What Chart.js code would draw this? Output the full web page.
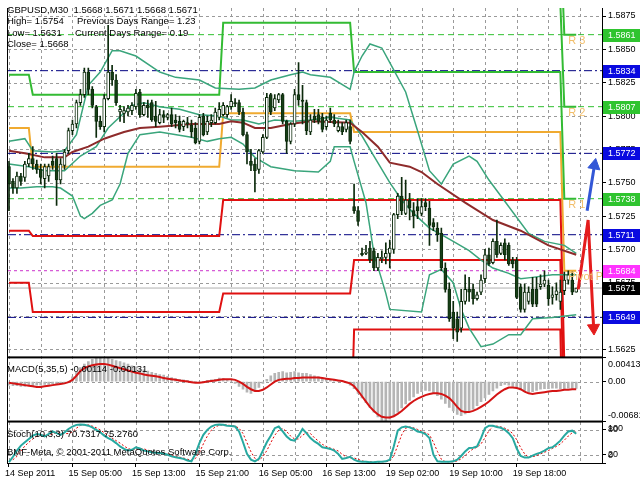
<!DOCTYPE html>
<html>
<head>
<meta charset="utf-8">
<script src="https://cdn.jsdelivr.net/npm/chart.js@4.4.1/dist/chart.umd.min.js"></script>
<style>
  html, body { margin: 0; padding: 0; background: #fff; }
  canvas { display: block; }
</style>
</head>
<body>
<canvas id="gbpusd" width="640" height="480"></canvas>
<script>
// x axis: one label every 16 bars (M30), grid every 8 bars
const timeLabels = ['14 Sep 2011', '15 Sep 05:00', '15 Sep 13:00', '15 Sep 21:00', '16 Sep 05:00',
  '16 Sep 13:00', '19 Sep 02:00', '19 Sep 10:00', '19 Sep 18:00'];
const gridBars = [0, 8, 16, 24, 32, 40, 48, 56, 64, 72, 80, 88, 96, 104, 112, 120, 128, 136, 144];
const priceTicks = [1.5625, 1.5650, 1.5675, 1.5700, 1.5725, 1.5750, 1.5775, 1.5800, 1.5825, 1.5850, 1.5875];

// GBPUSD M30 candles
const opens = [
  1.5762, 1.5751, 1.5746, 1.5755, 1.5754, 1.5764, 1.5768, 1.5764, 1.5760, 1.5753,
  1.5755, 1.5766, 1.5768, 1.5752, 1.5763, 1.5774, 1.5789, 1.5794, 1.5810, 1.5816,
  1.5833, 1.5820, 1.5807, 1.5796, 1.5792, 1.5813, 1.5833, 1.5827, 1.5803, 1.5802,
  1.5803, 1.5804, 1.5807, 1.5818, 1.5801, 1.5808, 1.5810, 1.5800, 1.5795, 1.5801,
  1.5799, 1.5801, 1.5797, 1.5796, 1.5792, 1.5795, 1.5793, 1.5791, 1.5781, 1.5800,
  1.5788, 1.5795, 1.5795, 1.5799, 1.5801, 1.5801, 1.5807, 1.5810, 1.5810, 1.5803,
  1.5786, 1.5766, 1.5764, 1.5760, 1.5773, 1.5784, 1.5816, 1.5806, 1.5812, 1.5816,
  1.5796, 1.5781, 1.5794, 1.5816, 1.5812, 1.5810, 1.5788, 1.5800, 1.5801, 1.5799,
  1.5792, 1.5802, 1.5797, 1.5789, 1.5792, 1.5790, 1.5792, 1.5732, 1.5729, 1.5697,
  1.5697, 1.5701, 1.5699, 1.5686, 1.5693, 1.5694, 1.5697, 1.5700, 1.5726, 1.5740,
  1.5727, 1.5737, 1.5729, 1.5732, 1.5727, 1.5735, 1.5731, 1.5720, 1.5716, 1.5712,
  1.5686, 1.5670, 1.5653, 1.5648, 1.5641, 1.5661, 1.5670, 1.5670, 1.5663, 1.5668,
  1.5678, 1.5696, 1.5690, 1.5706, 1.5697, 1.5705, 1.5703, 1.5692, 1.5692, 1.5672,
  1.5655, 1.5661, 1.5670, 1.5670, 1.5672, 1.5674, 1.5673, 1.5664, 1.5666, 1.5661,
  1.5669, 1.5677, 1.5677, 1.5668
];
const highs = [
  1.5766, 1.5753, 1.5758, 1.5757, 1.5766, 1.5772, 1.5777, 1.5767, 1.5764, 1.5764,
  1.5764, 1.5770, 1.5772, 1.5768, 1.5775, 1.5791, 1.5797, 1.5812, 1.5820, 1.5836,
  1.5836, 1.5822, 1.5808, 1.5800, 1.5816, 1.5868, 1.5838, 1.5831, 1.5808, 1.5807,
  1.5808, 1.5810, 1.5820, 1.5820, 1.5810, 1.5812, 1.5812, 1.5811, 1.5805, 1.5804,
  1.5802, 1.5806, 1.5801, 1.5800, 1.5797, 1.5799, 1.5797, 1.5795, 1.5801, 1.5802,
  1.5800, 1.5801, 1.5806, 1.5810, 1.5810, 1.5808, 1.5816, 1.5813, 1.5812, 1.5806,
  1.5788, 1.5775, 1.5768, 1.5775, 1.5786, 1.5817, 1.5817, 1.5816, 1.5817, 1.5817,
  1.5797, 1.5795, 1.5820, 1.5840, 1.5823, 1.5812, 1.5801, 1.5805, 1.5805, 1.5802,
  1.5800, 1.5806, 1.5801, 1.5797, 1.5795, 1.5797, 1.5797, 1.5749, 1.5732, 1.5701,
  1.5703, 1.5706, 1.5701, 1.5697, 1.5699, 1.5705, 1.5707, 1.5727, 1.5742, 1.5754,
  1.5752, 1.5742, 1.5735, 1.5738, 1.5738, 1.5738, 1.5736, 1.5723, 1.5720, 1.5716,
  1.5690, 1.5675, 1.5661, 1.5653, 1.5670, 1.5681, 1.5679, 1.5674, 1.5668, 1.5681,
  1.5700, 1.5701, 1.5708, 1.5722, 1.5705, 1.5708, 1.5705, 1.5694, 1.5694, 1.5674,
  1.5674, 1.5672, 1.5679, 1.5679, 1.5681, 1.5684, 1.5677, 1.5672, 1.5675, 1.5677,
  1.5683, 1.5684, 1.5683, 1.5671
];
const lows = [
  1.5729, 1.5742, 1.5742, 1.5748, 1.5751, 1.5762, 1.5760, 1.5757, 1.5749, 1.5746,
  1.5751, 1.5760, 1.5733, 1.5749, 1.5760, 1.5772, 1.5786, 1.5791, 1.5808, 1.5814,
  1.5816, 1.5806, 1.5784, 1.5790, 1.5788, 1.5812, 1.5823, 1.5808, 1.5796, 1.5795,
  1.5800, 1.5801, 1.5805, 1.5799, 1.5800, 1.5799, 1.5796, 1.5792, 1.5794, 1.5795,
  1.5797, 1.5792, 1.5791, 1.5788, 1.5789, 1.5791, 1.5784, 1.5779, 1.5779, 1.5785,
  1.5786, 1.5792, 1.5794, 1.5797, 1.5800, 1.5799, 1.5805, 1.5807, 1.5801, 1.5785,
  1.5764, 1.5759, 1.5743, 1.5757, 1.5772, 1.5783, 1.5801, 1.5804, 1.5810, 1.5794,
  1.5772, 1.5779, 1.5792, 1.5808, 1.5794, 1.5786, 1.5786, 1.5795, 1.5794, 1.5788,
  1.5790, 1.5795, 1.5792, 1.5788, 1.5786, 1.5788, 1.5779, 1.5727, 1.5718, 1.5695,
  1.5696, 1.5690, 1.5684, 1.5684, 1.5690, 1.5689, 1.5686, 1.5697, 1.5723, 1.5726,
  1.5726, 1.5722, 1.5716, 1.5723, 1.5725, 1.5729, 1.5703, 1.5714, 1.5706, 1.5684,
  1.5668, 1.5646, 1.5633, 1.5631, 1.5638, 1.5659, 1.5661, 1.5659, 1.5662, 1.5666,
  1.5675, 1.5688, 1.5689, 1.5694, 1.5696, 1.5692, 1.5688, 1.5686, 1.5663, 1.5653,
  1.5653, 1.5659, 1.5657, 1.5657, 1.5670, 1.5672, 1.5658, 1.5659, 1.5662, 1.5655,
  1.5666, 1.5674, 1.5666, 1.5668
];
const closes = [
  1.5749, 1.5746, 1.5755, 1.5751, 1.5764, 1.5768, 1.5764, 1.5760, 1.5754, 1.5762,
  1.5762, 1.5763, 1.5752, 1.5764, 1.5773, 1.5789, 1.5794, 1.5810, 1.5816, 1.5833,
  1.5820, 1.5808, 1.5796, 1.5792, 1.5813, 1.5833, 1.5827, 1.5810, 1.5805, 1.5804,
  1.5806, 1.5808, 1.5817, 1.5801, 1.5808, 1.5806, 1.5797, 1.5796, 1.5801, 1.5799,
  1.5801, 1.5794, 1.5795, 1.5790, 1.5796, 1.5794, 1.5788, 1.5780, 1.5799, 1.5786,
  1.5796, 1.5797, 1.5803, 1.5805, 1.5808, 1.5807, 1.5811, 1.5809, 1.5803, 1.5786,
  1.5773, 1.5763, 1.5759, 1.5774, 1.5784, 1.5814, 1.5803, 1.5813, 1.5816, 1.5796,
  1.5781, 1.5794, 1.5816, 1.5812, 1.5811, 1.5789, 1.5797, 1.5797, 1.5796, 1.5790,
  1.5797, 1.5797, 1.5794, 1.5792, 1.5788, 1.5795, 1.5781, 1.5729, 1.5721, 1.5696,
  1.5698, 1.5692, 1.5686, 1.5694, 1.5694, 1.5697, 1.5701, 1.5726, 1.5740, 1.5729,
  1.5737, 1.5731, 1.5725, 1.5729, 1.5732, 1.5732, 1.5718, 1.5717, 1.5711, 1.5686,
  1.5670, 1.5648, 1.5641, 1.5638, 1.5661, 1.5670, 1.5668, 1.5663, 1.5666, 1.5677,
  1.5696, 1.5689, 1.5706, 1.5696, 1.5703, 1.5696, 1.5689, 1.5689, 1.5664, 1.5655,
  1.5668, 1.5668, 1.5659, 1.5659, 1.5674, 1.5677, 1.5663, 1.5666, 1.5669, 1.5668,
  1.5677, 1.5681, 1.5668, 1.5671
];

// indicator lines: [bar, price]
const maLine = [[0,1.5774],[4,1.5772],[9,1.5769],[14,1.5769],[16,1.5773],[20,1.5777],[24,1.5783],[26,1.5785],
  [29,1.5788],[33,1.5791],[38,1.5792],[46,1.5794],[53,1.5794],[56,1.5796],[59,1.5795],[62,1.5791],[66,1.5791],
  [71,1.5794],[76,1.5796],[86,1.5795],[89,1.5788],[93,1.5777],[96,1.5765],[101,1.5762],[104,1.5758],
  [108,1.5749],[115,1.5735],[122,1.5722],[129,1.5714],[136,1.5703],[143,1.5696]];
const bbUpper = [[0,1.5781],[4,1.5783],[6,1.5774],[11,1.5773],[14,1.5774],[17,1.5786],[20,1.5823],[23,1.5833],
  [26,1.5849],[28,1.5849],[32,1.5845],[38,1.5833],[42,1.5829],[48,1.5827],[52,1.5821],[58,1.5820],[62,1.5821],
  [66,1.5827],[71,1.5831],[74,1.5833],[76,1.5831],[81,1.5829],[86,1.5820],[87,1.5833],[89,1.5845],[91,1.5854],
  [94,1.5851],[96,1.5840],[100,1.5818],[103,1.5789],[106,1.5759],[109,1.5749],[112,1.5764],[116,1.5770],
  [118,1.5766],[121,1.5752],[124,1.5740],[131,1.5712],[135,1.5706],[140,1.5703],[143,1.5697]];
const bbMiddle = [[0,1.5764],[5,1.5762],[9,1.5759],[14,1.5759],[18,1.5770],[22,1.5777],[25,1.5791],[31,1.5808],
  [34,1.5810],[38,1.5807],[43,1.5805],[48,1.5801],[53,1.5800],[56,1.5797],[59,1.5797],[63,1.5794],[67,1.5797],
  [72,1.5796],[76,1.5797],[81,1.5799],[86,1.5797],[89,1.5785],[92,1.5770],[96,1.5750],[99,1.5737],[102,1.5727],
  [106,1.5716],[109,1.5711],[112,1.5706],[116,1.5699],[119,1.5692],[122,1.5686],[126,1.5682],[129,1.5678],
  [132,1.5679],[137,1.5681],[143,1.5681]];
const bbLower = [[0,1.5746],[3,1.5746],[7,1.5747],[11,1.5747],[13,1.5746],[16,1.5740],[18,1.5725],[19,1.5723],
  [21,1.5727],[23,1.5733],[26,1.5737],[28,1.5749],[30,1.5772],[33,1.5786],[38,1.5788],[46,1.5784],[50,1.5781],
  [53,1.5783],[56,1.5784],[59,1.5779],[62,1.5769],[66,1.5762],[72,1.5759],[78,1.5758],[81,1.5766],[82,1.5777],
  [86,1.5777],[87,1.5766],[90,1.5735],[92,1.5697],[95,1.5667],[96,1.5655],[104,1.5653],[106,1.5681],[109,1.5685],
  [112,1.5675],[114,1.5655],[116,1.5641],[119,1.5627],[122,1.5629],[126,1.5636],[129,1.5636],[132,1.5648],
  [137,1.5649],[143,1.5651]];

// daily pivot levels (14, 15, 16, 19, 20 Sep)
const dayFirst = [0, 6, 54, 87, 140];
const dayLast = [5, 53, 86, 139, 143];
const pivotP = [1.5791, 1.5762, 1.5802, 1.5788, 1.5684];
const pivotR1 = [1.5831, 1.5816, 1.5870, 1.5833, 1.5738];
const pivotR2 = [1.5907, 1.5925, 1.5937, 1.5884, 1.5807];
const pivotR3 = [1.5984, 1.5980, 1.6007, 1.5935, 1.5861];
const pivotS1 = [1.5714, 1.5710, 1.5737, 1.5737, 1.5614];
const pivotS2 = [1.5675, 1.5653, 1.5667, 1.5692, 1.5561];
const pivotS3 = [1.5598, 1.5544, 1.5532, 1.5640, 1.5491];

// horizontal levels
const midLevels = [1.5834, 1.5772, 1.5711, 1.5649];
const resLevels = [1.5861, 1.5807, 1.5738];
const todayPivot = 1.5684;
const bidPrice = 1.5671;
const axisLevels = [1.5861, 1.5834, 1.5807, 1.5772, 1.5738, 1.5711, 1.5684, 1.5671, 1.5649];
const axisLevelColors = ['#2fc42f', '#0a0ae0', '#2fc42f', '#0a0ae0', '#2fc42f', '#0a0ae0', '#ff33ff', '#000000', '#0a0ae0'];

// drawn arrows [bar, price]
const blueArrow = [[145.75, 1.5729], [147.6, 1.5763]];
const redArrow = [[143.5, 1.5670], [146, 1.5722], [147.4, 1.5641]];

// MACD(5,35,5)
const macdMain = [
  -0.0006, -0.0007, -0.0007, -0.0008, -0.0008, -0.0007, -0.0007, -0.0006, -0.0006, -0.0005,
  -0.0005, -0.0004, -0.0004, -0.0003, -0.0002, 0.0000, 0.0008, 0.0016, 0.0024, 0.0030,
  0.0034, 0.0038, 0.0041, 0.0040, 0.0039, 0.0040, 0.0038, 0.0036, 0.0034, 0.0032,
  0.0030, 0.0027, 0.0025, 0.0022, 0.0020, 0.0018, 0.0016, 0.0014, 0.0012, 0.0011,
  0.0009, 0.0007, 0.0005, 0.0004, 0.0003, 0.0002, 0.0001, 0.0000, -0.0001, 0.0000,
  0.0002, 0.0003, 0.0004, 0.0006, 0.0005, 0.0003, 0.0001, -0.0003, -0.0008, -0.0013,
  -0.0018, -0.0020, -0.0016, -0.0010, -0.0003, 0.0004, 0.0010, 0.0014, 0.0016, 0.0017,
  0.0015, 0.0016, 0.0017, 0.0015, 0.0014, 0.0014, 0.0012, 0.0010, 0.0008, 0.0006,
  0.0004, 0.0003, 0.0002, 0.0001, 0.0000, -0.0002, -0.0006, -0.0012, -0.0020, -0.0028,
  -0.0036, -0.0044, -0.0052, -0.0060, -0.0066, -0.0068, -0.0064, -0.0058, -0.0052, -0.0045,
  -0.0038, -0.0032, -0.0026, -0.0020, -0.0017, -0.0015, -0.0016, -0.0019, -0.0024, -0.0030,
  -0.0037, -0.0044, -0.0050, -0.0056, -0.0058, -0.0055, -0.0051, -0.0047, -0.0041, -0.0034,
  -0.0028, -0.0022, -0.0016, -0.0011, -0.0007, -0.0005, -0.0006, -0.0008, -0.0011, -0.0014,
  -0.0017, -0.0018, -0.0017, -0.0015, -0.0013, -0.0012, -0.0012, -0.0011, -0.0011, -0.0012,
  -0.0012, -0.0011, -0.0011, -0.00114
];
const macdSignal = [
  -0.0002, -0.0003, -0.0004, -0.0005, -0.0006, -0.0007, -0.0008, -0.0009, -0.0009, -0.0008,
  -0.0007, -0.0006, -0.0005, -0.0004, -0.0003, -0.0001, 0.0003, 0.0010, 0.0018, 0.0023,
  0.0026, 0.0028, 0.0029, 0.0030, 0.0030, 0.0029, 0.0027, 0.0025, 0.0023, 0.0021,
  0.0019, 0.0017, 0.0015, 0.0014, 0.0012, 0.0011, 0.0010, 0.0009, 0.0008, 0.0006,
  0.0005, 0.0004, 0.0003, 0.0002, 0.0001, 0.0000, -0.0001, -0.0002, -0.0002, -0.0001,
  0.0000, 0.0001, 0.0002, 0.0003, 0.0004, 0.0004, 0.0004, 0.0003, 0.0000, -0.0004,
  -0.0009, -0.0013, -0.0016, -0.0016, -0.0014, -0.0010, -0.0005, 0.0000, 0.0003, 0.0004,
  0.0005, 0.0005, 0.0006, 0.0006, 0.0007, 0.0007, 0.0007, 0.0007, 0.0007, 0.0006,
  0.0005, 0.0004, 0.0003, 0.0002, 0.0001, -0.0001, -0.0003, -0.0008, -0.0016, -0.0025,
  -0.0034, -0.0043, -0.0050, -0.0056, -0.0060, -0.0061, -0.0061, -0.0059, -0.0055, -0.0050,
  -0.0044, -0.0038, -0.0033, -0.0029, -0.0026, -0.0023, -0.0021, -0.0020, -0.0020, -0.0021,
  -0.0024, -0.0028, -0.0035, -0.0043, -0.0050, -0.0052, -0.0052, -0.0050, -0.0047, -0.0043,
  -0.0039, -0.0034, -0.0028, -0.0022, -0.0017, -0.0013, -0.0010, -0.0010, -0.0011, -0.0013,
  -0.0017, -0.0020, -0.0021, -0.0020, -0.0019, -0.0018, -0.0017, -0.0016, -0.0016, -0.0015,
  -0.0014, -0.0014, -0.0013, -0.00131
];

// Stochastic(10,3,3)
const stochMain = [
  2, 15, 30, 42, 50, 58, 66, 70, 68, 64,
  70, 76, 72, 68, 74, 82, 88, 92, 93, 92,
  90, 86, 80, 74, 66, 60, 55, 48, 40, 34,
  30, 32, 38, 35, 30, 28, 26, 25, 24, 23,
  20, 16, 14, 12, 10, 6, 4, 22, 48, 68,
  80, 88, 92, 93, 92, 90, 89, 88, 76, 50,
  22, 8, 4, 10, 30, 50, 66, 84, 88, 76,
  64, 56, 54, 66, 82, 72, 60, 52, 46, 38,
  36, 34, 30, 22, 10, 12, 15, 8, 4, 3,
  3, 2, 2, 3, 3, 4, 8, 40, 78, 86,
  88, 86, 82, 76, 74, 70, 60, 20, 4, 3,
  3, 3, 4, 8, 17, 28, 36, 37, 40, 60,
  84, 90, 90, 87, 85, 80, 72, 60, 35, 17,
  13, 13, 18, 22, 25, 30, 36, 38, 45, 54,
  66, 76, 78, 70.7317
];
const stochSignal = [
  5, 8, 16, 29, 41, 50, 58, 65, 68, 67,
  67, 70, 73, 72, 71, 71, 75, 84, 91, 92,
  92, 89, 85, 80, 73, 67, 60, 54, 48, 41,
  35, 32, 33, 35, 34, 31, 28, 26, 25, 24,
  22, 20, 17, 14, 12, 9, 7, 11, 25, 46,
  65, 79, 87, 91, 92, 92, 90, 89, 84, 71,
  49, 27, 11, 7, 15, 30, 49, 67, 79, 83,
  76, 65, 58, 58, 67, 73, 71, 61, 53, 45,
  40, 36, 33, 29, 21, 15, 12, 12, 9, 5,
  3, 3, 2, 2, 3, 3, 5, 17, 42, 68,
  84, 87, 85, 81, 77, 73, 68, 50, 28, 9,
  3, 3, 3, 5, 10, 18, 27, 34, 38, 46,
  61, 78, 88, 89, 87, 84, 79, 71, 56, 37,
  22, 14, 15, 18, 22, 26, 30, 35, 40, 46,
  55, 65, 73, 75.2760
];
const macdTicks = [0.00413, 0, -0.00681];
const stochTicks = [100, 80, 20, 0];
const stochLevels = [20, 80];

const X_MIN = -0.25, X_MAX = 149.5;
const FONT = '"Liberation Sans", Arial, sans-serif';
const NONE = 'rgba(0,0,0,0)';

const pts = arr => arr.map(p => ({ x: p[0], y: p[1] }));
const series = arr => arr.map((v, i) => ({ x: i, y: v }));
const dayStep = levels => {
  const out = [];
  levels.forEach((v, d) => out.push({ x: dayFirst[d], y: v }, { x: dayLast[d], y: v }));
  return out;
};
const flat = v => [{ x: X_MIN, y: v }, { x: X_MAX, y: v }];

function line(data, color, width, extra) {
  return Object.assign({
    type: 'line', data: data, borderColor: color, borderWidth: width,
    pointRadius: 0, fill: false, tension: 0, yAxisID: 'y', clip: 0
  }, extra || {});
}

const datasets = [];
midLevels.forEach(v => datasets.push(line(flat(v), '#000080', 1, { borderDash: [8, 3, 2, 3], order: 20 })));
resLevels.forEach(v => datasets.push(line(flat(v), '#30c030', 1, { borderDash: [6, 4], order: 20 })));
datasets.push(line(flat(todayPivot), '#cc33cc', 1, { borderDash: [3, 3], order: 20 }));
datasets.push(line(flat(bidPrice), '#b0b0b0', 1, { order: 20 }));

[pivotR1, pivotR2, pivotR3].forEach(l => datasets.push(line(dayStep(l), '#33bb33', 2, { order: 15 })));
[pivotS1, pivotS2, pivotS3].forEach(l => datasets.push(line(dayStep(l), '#e01010', 2, { order: 15 })));
datasets.push(line(dayStep(pivotP), '#f0aa30', 2, { order: 15 }));

[bbUpper, bbMiddle, bbLower].forEach(l => datasets.push(line(pts(l), '#3aa57c', 1.5, { order: 12 })));
datasets.push(line(pts(maLine), '#8e2b2b', 2, { order: 11 }));

// candles: wick then body
datasets.push({
  type: 'bar', yAxisID: 'y', order: 6, grouped: false, barThickness: 1,
  data: lows.map((l, i) => ({ x: i, y: [l, highs[i]] })),
  backgroundColor: '#0c2a0c', borderWidth: 0
});
datasets.push({
  type: 'bar', yAxisID: 'y', order: 5, grouped: false, barThickness: 3, minBarLength: 1,
  data: opens.map((o, i) => ({ x: i, y: [o, closes[i]] })),
  backgroundColor: c => closes[c.dataIndex] >= opens[c.dataIndex] ? '#ffffff' : '#173f17',
  borderColor: '#0c2a0c', borderWidth: 1, borderSkipped: false
});

// hand-drawn arrows
datasets.push(line(pts(blueArrow), '#3357d6', 3, {
  order: 1, pointRadius: [0, 7], pointStyle: 'triangle', pointRotation: 10,
  pointBackgroundColor: '#3357d6', pointBorderColor: '#3357d6', pointBorderWidth: 1
}));
datasets.push(line(pts(redArrow), '#e41c1c', 3, {
  order: 1, pointRadius: [0, 0, 7], pointStyle: 'triangle', pointRotation: 177,
  pointBackgroundColor: '#e41c1c', pointBorderColor: '#e41c1c', pointBorderWidth: 1
}));

// MACD panel
datasets.push({
  type: 'bar', yAxisID: 'y2', order: 8, grouped: false, barThickness: 2,
  data: series(macdMain), backgroundColor: '#b5b5b5', borderWidth: 0
});
datasets.push(line(series(macdSignal), '#d41414', 2, { yAxisID: 'y2', order: 4 }));

// Stochastic panel
datasets.push(line(series(stochSignal), '#e00000', 1, { yAxisID: 'y3', order: 4, borderDash: [2, 2] }));
datasets.push(line(series(stochMain), '#27a8a0', 2, { yAxisID: 'y3', order: 3 }));

const rightAxis = (extra) => Object.assign({
  type: 'linear', position: 'right', stack: 'panes',
  afterFit: s => { s.width = 38; },
  border: { display: false }
}, extra);

// dotted MT4 grid, drawn behind the series
const gridLines = {
  id: 'gridLines',
  beforeDatasetsDraw(chart) {
    const { ctx } = chart;
    const { x, y, y2, y3 } = chart.scales;
    ctx.save();
    ctx.strokeStyle = '#9a9a9a';
    ctx.lineWidth = 1;
    ctx.setLineDash([3, 3]);
    ctx.beginPath();
    gridBars.forEach(v => {
      const px = Math.round(x.getPixelForValue(v)) + 0.5;
      ctx.moveTo(px, y.top);
      ctx.lineTo(px, y3.bottom);
    });
    const hz = (s, v) => {
      const py = Math.round(s.getPixelForValue(v)) + 0.5;
      ctx.moveTo(x.left, py);
      ctx.lineTo(x.right, py);
    };
    priceTicks.forEach(v => hz(y, v));
    hz(y2, 0);
    stochLevels.forEach(v => hz(y3, v));
    ctx.stroke();
    ctx.restore();
  }
};

const overlay = {
  id: 'overlay',
  afterDraw(chart) {
    const { ctx } = chart;
    const { x, y, y2, y3 } = chart.scales;
    ctx.save();

    // frames and panel separators
    ctx.fillStyle = '#000';
    ctx.fillRect(x.left - 1, y.top, 1, y3.bottom - y.top + 1);
    ctx.fillRect(x.right, y.top, 1, y3.bottom - y.top + 1);
    ctx.fillRect(x.left - 1, y3.bottom, x.right - x.left + 2, 1);
    ctx.fillRect(x.left - 1, y2.top - 1, x.right - x.left + 2, 2);
    ctx.fillRect(x.left - 1, y3.top - 1, x.right - x.left + 2, 2);

    // MACD / stochastic scale labels, kept inside their panes
    ctx.font = '9px ' + FONT;
    ctx.textBaseline = 'middle';
    ctx.textAlign = 'left';
    macdTicks.forEach(v => {
      const p = Math.min(Math.max(y2.getPixelForValue(v), y2.top + 7), y2.bottom - 6);
      ctx.fillText(v === 0 ? '0.00' : v.toFixed(5), y2.left + 6, p);
    });
    stochTicks.forEach(v => {
      const p = Math.min(Math.max(y3.getPixelForValue(v), y3.top + 7), y3.bottom - 7);
      ctx.fillText(String(v), y3.left + 6, p);
    });

    // price labels on the axis
    axisLevels.forEach((v, i) => {
      const p = Math.round(y.getPixelForValue(v));
      ctx.fillStyle = axisLevelColors[i];
      ctx.fillRect(x.right + 1, p - 6, 640 - x.right - 1, 13);
      ctx.fillStyle = '#fff';
      ctx.fillText(v.toFixed(4), y.left + 6, p + 0.5);
    });

    // pivot captions
    ctx.fillStyle = '#f2be6a';
    ctx.font = '11px ' + FONT;
    ctx.textBaseline = 'top';
    const lx = x.getPixelForValue(141);
    [['R 3', 1.5861], ['R 2', 1.5807], ['R 1', 1.5738], ['Pivot P', 1.5684]].forEach(t => {
      ctx.save();
      ctx.beginPath();
      ctx.rect(x.left, y.top, x.right - x.left, y.bottom - y.top);
      ctx.clip();
      ctx.fillText(t[0], lx, y.getPixelForValue(t[1]) + 1);
      ctx.restore();
    });

    // comment / indicator captions
    ctx.fillStyle = '#000';
    ctx.textBaseline = 'middle';
    ctx.font = '9.5px ' + FONT;
    ctx.fillText('GBPUSD,M30  1.5668 1.5671 1.5668 1.5671', 7, 10);
    ctx.fillText('High= 1.5754', 7, 21);
    ctx.fillText('Previous Days Range= 1.23', 77, 21);
    ctx.fillText('Low= 1.5631', 7, 33);
    ctx.fillText('Current Days Range= 0.19', 75, 33);
    ctx.fillText('Close= 1.5668', 7, 44);
    ctx.fillText('MACD(5,35,5) -0.00114 -0.00131', 7, y2.top + 12);
    ctx.fillText('Stoch(10,3,3) 70.7317 75.2760', 7, y3.top + 13);
    ctx.fillText('BMF-Meta, \u00a9 2001-2011 MetaQuotes Software Corp.', 7, y3.top + 31);
    ctx.restore();
  }
};

new Chart(document.getElementById('gbpusd'), {
  type: 'bar',
  data: { datasets: datasets },
  plugins: [gridLines, overlay],
  options: {
    responsive: false,
    animation: false,
    devicePixelRatio: 1,
    layout: { padding: { top: 2, left: 3, right: 0, bottom: 0 } },
    plugins: { legend: { display: false }, tooltip: { enabled: false } },
    scales: {
      x: {
        type: 'linear', min: X_MIN, max: X_MAX, offset: false,
        afterBuildTicks: s => { s.ticks = gridBars.map(v => ({ value: v })); },
        afterFit: s => { s.height = 17; },
        grid: {
          offset: false, drawOnChartArea: false, tickLength: 4,
          tickColor: c => (c.tick && c.tick.value % 16 === 0) ? '#000' : NONE
        },
        border: { display: false },
        ticks: {
          autoSkip: false, maxRotation: 0, align: 'start', padding: 1, color: '#000',
          labelOffset: -4, font: { family: FONT, size: 9 },
          callback: v => v % 16 === 0 ? timeLabels[v / 16] : ''
        }
      },
      y: rightAxis({
        stackWeight: 354, min: 1.5619, max: 1.5881,
        afterBuildTicks: s => { s.ticks = priceTicks.map(v => ({ value: v })); },
        grid: { drawOnChartArea: false, tickLength: 4, tickColor: '#000' },
        ticks: { padding: 2, color: '#000', font: { family: FONT, size: 9 }, callback: v => v.toFixed(4) }
      }),
      y2: rightAxis({
        stackWeight: 65, min: -0.00681, max: 0.00413,
        afterBuildTicks: s => { s.ticks = macdTicks.map(v => ({ value: v })); },
        grid: { drawOnChartArea: false, tickLength: 4, tickColor: '#000' },
        ticks: { display: false }
      }),
      y3: rightAxis({
        stackWeight: 42, min: 0, max: 100,
        afterBuildTicks: s => { s.ticks = stochTicks.map(v => ({ value: v })); },
        grid: { drawOnChartArea: false, tickLength: 4, tickColor: '#000' },
        ticks: { display: false }
      })
    }
  }
});
</script>
</body>
</html>
